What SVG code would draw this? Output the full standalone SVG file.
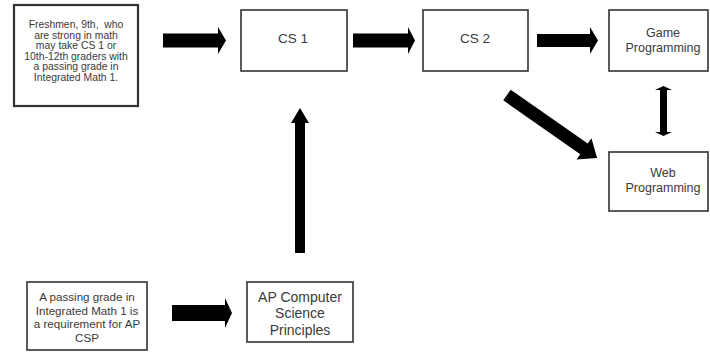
<svg xmlns="http://www.w3.org/2000/svg" width="710" height="352" viewBox="0 0 710 352">
<style>
.box{fill:#fff;stroke:#333;stroke-width:1.6}
.t{font-family:"Liberation Sans",Arial,sans-serif;fill:#3a3a3a;text-anchor:middle}
.arr{fill:#000}
</style>
<rect width="710" height="352" fill="#fff"/>
<g id="connectors">
<polygon class="arr" points="163,33.5 218,33.5 218,27 226,40.5 218,54 218,47.5 163,47.5"/>
<polygon class="arr" points="353,33.5 408,33.5 408,27 415,40.5 408,54 408,47.5 353,47.5"/>
<polygon class="arr" points="537,34 590,34 590,27 598,40.5 590,54 590,47 537,47"/>
<polygon class="arr" points="660,90 655,90 663.5,86 672,90 667,90 667,132 672,132 663.5,136 655,132 660,132"/>
<g transform="translate(507,95) rotate(35)">
<polygon class="arr" points="0,-6.5 94,-6.5 94,-13 110,0 94,13 94,6.5 0,6.5"/>
</g>
<polygon class="arr" points="295,253 295,123 291,123 300,108 309,123 305,123 305,253"/>
<polygon class="arr" points="172,305 225,305 225,298 232,313 225,328 225,321 172,321"/>
</g>
<g id="node-freshmen">
<rect class="box" x="14" y="5" width="124" height="101" style="stroke-width:2.2"/>
<text class="t" font-size="10.4" xml:space="preserve" style="white-space:pre"><tspan x="76" y="27.8">Freshmen, 9th,  who</tspan><tspan x="76" y="38.6">are strong in math</tspan><tspan x="76" y="49.3">may take CS 1 or</tspan><tspan x="76" y="59.8">10th-12th graders with</tspan><tspan x="76" y="70.4">a passing grade in</tspan><tspan x="76" y="81.1">Integrated Math 1.</tspan></text>
</g>
<g id="node-cs1">
<rect class="box" x="241" y="10" width="106" height="61"/>
<text class="t" font-size="13.5" x="293" y="43">CS 1</text>
</g>
<g id="node-cs2">
<rect class="box" x="423" y="10" width="105" height="61"/>
<text class="t" font-size="13.5" x="475" y="43">CS 2</text>
</g>
<g id="node-game">
<rect class="box" x="609" y="10" width="99" height="61"/>
<text class="t" font-size="12.5"><tspan x="663" y="36.5">Game</tspan><tspan x="663" y="51.5">Programming</tspan></text>
</g>
<g id="node-web">
<rect class="box" x="609" y="152" width="99" height="59"/>
<text class="t" font-size="12.5"><tspan x="663" y="176.5">Web</tspan><tspan x="663" y="191.5">Programming</tspan></text>
</g>
<g id="node-prereq">
<rect class="box" x="27" y="282" width="120" height="68"/>
<text class="t" font-size="11.6"><tspan x="87" y="301">A passing grade in</tspan><tspan x="87" y="315">Integrated Math 1 is</tspan><tspan x="87" y="328">a requirement for AP</tspan><tspan x="87" y="341.5">CSP</tspan></text>
</g>
<g id="node-apcsp">
<rect class="box" x="247" y="282" width="106" height="60"/>
<text class="t" font-size="14"><tspan x="300" y="302">AP Computer</tspan><tspan x="300" y="318">Science</tspan><tspan x="300" y="335">Principles</tspan></text>
</g>
</svg>
